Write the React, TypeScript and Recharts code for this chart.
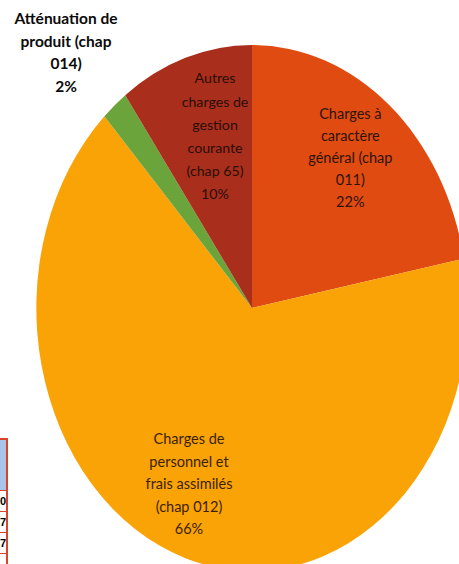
import React from 'react';
import { PieChart, Pie, Cell } from 'recharts';

const categories = [
  'Charges à caractère général (chap 011)',
  'Charges de personnel et frais assimilés (chap 012)',
  'Atténuation de produit (chap 014)',
  'Autres charges de gestion courante (chap 65)',
];
const values = [22, 66, 2, 10];
const labelLines = [
  ['Charges à', 'caractère', 'général  (chap', '011)'],
  ['Charges de', 'personnel et', 'frais assimilés', '(chap 012)'],
  ['Atténuation de', 'produit (chap', '014)'],
  ['Autres', 'charges de', 'gestion', 'courante', '(chap 65)'],
];
const colors = ['#E04B12', '#FAA306', '#6AA43A', '#A92E1B'];

// label styling (position factors along each slice's mid-angle)
const labelRadius = [0.73, 0.72, 1.28, 0.69];
const labelShiftX = [-2, -15, -10, 9];
const labelShiftY = [-3, -5, 3.5, 0];
const labelBold = [false, false, true, false];
const labelColor = ['#2e1408', '#3a2205', '#0a0a0a', '#2a0e08'];
const labelSize = [14.5, 14.5, 15.5, 14.2];
const labelGap = [22, 22.5, 22.7, 23.2];

const data = categories.map((name, i) => ({ name, value: values[i] }));

const CX = 252;
const CY = 308;
const RY = 263;
const SX = 0.82;
const RAD = Math.PI / 180;

const renderLabel = (props: any) => {
  const { cx, cy, midAngle, outerRadius, index } = props;
  const r = outerRadius * labelRadius[index];
  const x = cx + r * Math.cos(-midAngle * RAD) * SX + labelShiftX[index];
  const yc = cy + r * Math.sin(-midAngle * RAD) + labelShiftY[index];
  const lines = [...labelLines[index], `${values[index]}%`];
  const gap = labelGap[index];
  const y0 = yc - ((lines.length - 1) * gap) / 2;
  return (
    <text
      key={`lbl-${index}`}
      x={x}
      y={y0}
      textAnchor="middle"
      dominantBaseline="central"
      fontFamily="Lato, 'Open Sans', sans-serif"
      fontSize={labelSize[index]}
      fontWeight={labelBold[index] ? 700 : 400}
      fill={labelColor[index]}
    >
      {lines.map((ln, k) => (
        <tspan key={k} x={x} y={y0 + k * gap}>
          {ln}
        </tspan>
      ))}
    </text>
  );
};

const tableRows = ['0', '7', '7'];

export default function App() {
  return (
    <div
      style={{
        position: 'absolute',
        left: 0,
        top: 0,
        width: 459,
        height: 564,
        overflow: 'hidden',
        background: '#ffffff',
      }}
    >
      <style>{`
        path.recharts-sector {
          transform-origin: ${CX}px ${CY}px;
          transform: scaleX(${SX});
        }
      `}</style>
      <PieChart width={459} height={564} margin={{ top: 0, right: 0, bottom: 0, left: 0 }}>
        <Pie
          data={data}
          dataKey="value"
          nameKey="name"
          cx={CX}
          cy={CY}
          outerRadius={RY}
          startAngle={90}
          endAngle={-270}
          stroke="none"
          label={renderLabel}
          labelLine={false}
          isAnimationActive={false}
        >
          {data.map((d, i) => (
            <Cell key={d.name} fill={colors[i]} />
          ))}
        </Pie>
      </PieChart>
      <div
        style={{
          position: 'absolute',
          left: 0,
          top: 438,
          width: 6,
          height: 130,
          borderRight: '2px solid #d9452a',
          borderTop: '2px solid #d9452a',
          fontFamily: 'Arial, sans-serif',
          fontSize: 11,
          fontWeight: 700,
        }}
      >
        <div style={{ height: 50, background: '#a9c3ea', borderBottom: '1px solid #d9452a' }} />
        {tableRows.map((t, i) => (
          <div
            key={i}
            style={{
              height: 20,
              borderBottom: '1px solid #d9452a',
              textAlign: 'right',
              lineHeight: '20px',
              overflow: 'hidden',
              direction: 'rtl',
            }}
          >
            {t}
          </div>
        ))}
      </div>
    </div>
  );
}
